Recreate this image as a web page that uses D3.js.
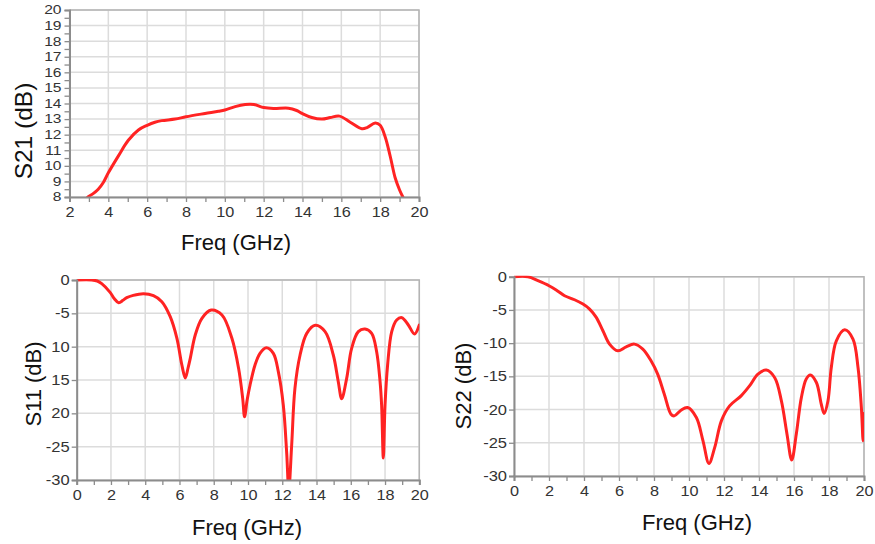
<!DOCTYPE html>
<html>
<head>
<meta charset="utf-8">
<script src="https://cdn.jsdelivr.net/npm/d3@7"></script>
<style>
  body { margin: 0; background: #fff; }
  svg { display: block; }
  text { font-family: "Liberation Sans", Arial, sans-serif; }
</style>
</head>
<body>
<svg id="chart" width="875" height="544"></svg>
<script>
// ---- Gain S21 (dB) versus frequency (GHz)
const s21Freq = [2.94, 3.2, 3.48, 3.75, 4.0, 4.52, 5.03, 5.55, 6.0, 6.4, 6.75, 7.44, 8.0, 8.98, 9.67, 10.0,
  10.53, 11.05, 11.5, 12.0, 12.5, 13.28, 13.7, 14.0, 14.48, 15.0, 15.43, 15.9, 16.46, 17.06, 17.32,
  17.75, 18.0, 18.26, 18.52, 18.78, 19.0, 19.17];
const s21Db = [8.0, 8.2, 8.5, 8.95, 9.55, 10.64, 11.64, 12.3, 12.6, 12.8, 12.9, 13.0, 13.15, 13.36, 13.5, 13.58,
  13.8, 13.93, 13.93, 13.74, 13.68, 13.7, 13.55, 13.35, 13.1, 13.0, 13.1, 13.19, 12.8, 12.38, 12.45,
  12.75, 12.6, 11.85, 10.6, 9.2, 8.45, 8.0];

// ---- Input return loss S11 (dB)
const s11Freq = [0, 0.88, 1.2, 1.46, 1.95, 2.2, 2.45, 2.7, 2.92, 3.3, 3.9, 4.48, 4.97, 5.46, 5.85, 6.14, 6.34,
  6.5, 6.63, 6.92, 7.31, 7.85, 8.48, 9.06, 9.45, 9.69, 9.8, 9.95, 10.12, 10.41, 10.7, 11.07, 11.48, 11.77,
  12.06, 12.26, 12.38, 12.55, 12.74, 13.04, 13.43, 13.93, 14.5, 14.98, 15.27, 15.47, 15.76, 16.05, 16.44,
  16.83, 17.22, 17.51, 17.71, 17.8, 17.9, 18.0, 18.15, 18.39, 18.68, 18.98, 19.36, 19.72, 20];
const s11Db = [0, 0, -0.15, -0.55, -1.85, -2.8, -3.4, -3.05, -2.65, -2.3, -2.05, -2.35, -3.25, -5.5, -8.75, -12.75, -14.7,
  -13.2, -11.75, -8.25, -5.75, -4.5, -5.25, -8.75, -13.25, -17.75, -20.5, -18, -15.75, -12.75, -11, -10.15, -11, -13.75,
  -18.75, -26, -31.5, -24.75, -16.25, -11.25, -8, -6.8, -7.75, -11.25, -15.25, -17.8, -14.75, -10.25, -7.75,
  -7.35, -8, -10.75, -15.25, -18.75, -26.7, -18.75, -12.75, -7.75, -6, -5.65, -6.75, -8.1, -6.75];

// ---- Output return loss S22 (dB)
const s22Freq = [0, 0.8, 1.37, 2.0, 2.41, 2.89, 3.46, 3.94, 4.32, 4.7, 5.08, 5.46, 5.93, 6.41, 6.88, 7.36, 7.83,
  8.21, 8.59, 8.97, 9.16, 9.54, 9.92, 10.42, 10.8, 11.14, 11.47, 11.85, 12.32, 12.99, 13.47, 13.94, 14.42,
  14.9, 15.28, 15.6, 15.87, 16.13, 16.42, 16.7, 16.93, 17.28, 17.56, 17.72, 17.94, 18.13, 18.42, 18.9,
  19.37, 19.66, 19.85, 19.95, 20];
const s22Db = [0, 0, -0.6, -1.36, -2.0, -2.86, -3.47, -4.12, -4.87, -6.13, -8.14, -10.15, -11.16, -10.55, -10.15, -10.9, -12.66,
  -14.67, -17.7, -20.7, -20.95, -20.1, -19.7, -21.2, -24.7, -28.1, -25.7, -21.7, -19.45, -17.9, -16.4, -14.67, -14.05,
  -15.2, -18.7, -23.7, -27.6, -23.7, -18.2, -15.4, -14.8, -15.93, -19.2, -20.6, -18.7, -13.7, -9.65, -8.0,
  -9.4, -13.7, -19.7, -24.7, -20.6];

// ---- Tick values and labels
const s21XTicks = [2, 4, 6, 8, 10, 12, 14, 16, 18, 20];
const s21YTicks = [8, 9, 10, 11, 12, 13, 14, 15, 16, 17, 18, 19, 20];
const s21YLabels = ["8", "9", "10", "11", "12", "13", "14", "15", "16", "17", "18", "19", "20"];
const rlXTicks = [0, 2, 4, 6, 8, 10, 12, 14, 16, 18, 20];
const rlYTicks = [0, -5, -10, -15, -20, -25, -30];
const s11YLabels = ["0", "-5", "10", "15", "20", "-25", "-30"];
const s22YLabels = ["0", "-5", "-10", "-15", "-20", "-25", "-30"];

const svg = d3.select("#chart");
const RED = "#ff2323";

// widen tick labels horizontally (wide-set instrument plot lettering)
function stretchText(sel, factor) {
  sel.each(function () {
    const w = this.getComputedTextLength();
    if (w > 0) {
      d3.select(this).attr("textLength", w * factor).attr("lengthAdjust", "spacingAndGlyphs");
    }
  });
}

function drawPanel(p) {
  const x = d3.scaleLinear().domain(p.xDomain).range([p.x0, p.x1]);
  const y = d3.scaleLinear().domain(p.yDomain).range([p.y1, p.y0]);
  const g = svg.append("g");

  // grid
  g.append("g").selectAll("line").data(p.xTicks).join("line")
    .attr("x1", d => x(d)).attr("x2", d => x(d))
    .attr("y1", p.y0).attr("y2", p.y1)
    .attr("stroke", "#dcdcdc").attr("stroke-width", 1.5);
  g.append("g").selectAll("line").data(p.yTicks).join("line")
    .attr("y1", d => y(d)).attr("y2", d => y(d))
    .attr("x1", p.x0).attr("x2", p.x1)
    .attr("stroke", "#dcdcdc").attr("stroke-width", 1.5);

  // frame (top / right)
  g.append("path")
    .attr("d", `M${p.x0},${p.y0}H${p.x1}V${p.y1}`)
    .attr("fill", "none").attr("stroke", "#b4b4b4").attr("stroke-width", 1.5);

  // trace
  const clipId = "clip-" + p.id;
  g.append("clipPath").attr("id", clipId).append("rect")
    .attr("x", p.x0).attr("y", p.y0 - 1).attr("width", p.x1 - p.x0).attr("height", p.y1 - p.y0 + 2);
  const pts = p.freq.map((f, i) => [f, p.vals[i]]);
  g.append("path")
    .datum(pts)
    .attr("clip-path", `url(#${clipId})`)
    .attr("fill", "none").attr("stroke", RED).attr("stroke-width", 3)
    .attr("stroke-linejoin", "round").attr("stroke-linecap", "round")
    .attr("d", d3.line().x(d => x(d[0])).y(d => y(d[1])).curve(d3.curveCatmullRom.alpha(0.5)));

  // bottom axis
  const xAxis = d3.axisBottom(x)
    .tickValues(d3.range(p.xDomain[0], p.xDomain[1] + 0.5, 1))
    .tickSize(5).tickPadding(5)
    .tickFormat(d => p.xTicks.includes(d) ? String(d) : "");
  const gx = g.append("g").attr("transform", `translate(0,${p.y1})`).call(xAxis);
  gx.select(".domain").attr("stroke", "#8c8c8c").attr("stroke-width", 2);
  gx.selectAll(".tick line").attr("stroke", "#8c8c8c").attr("stroke-width", 1.3);
  gx.selectAll(".tick text").attr("font-size", p.xTickFont).attr("fill", "#333")
    .attr("font-family", "Liberation Sans, Arial, sans-serif")
    .call(stretchText, p.xStretch);

  // left axis
  const yAxis = d3.axisLeft(y)
    .tickValues(p.yMinor)
    .tickSize(5).tickPadding(p.yPad)
    .tickFormat(d => {
      const i = p.yTicks.indexOf(d);
      return i >= 0 ? p.yLabels[i] : "";
    });
  const gy = g.append("g").attr("transform", `translate(${p.x0},0)`).call(yAxis);
  gy.select(".domain").attr("stroke", "#8c8c8c").attr("stroke-width", 2);
  gy.selectAll(".tick line").attr("stroke", "#8c8c8c").attr("stroke-width", 1.3);
  gy.selectAll(".tick text").attr("font-size", p.yTickFont).attr("fill", "#333")
    .attr("font-family", "Liberation Sans, Arial, sans-serif")
    .call(stretchText, p.yStretch);

  // axis titles
  g.append("text")
    .attr("x", p.xTitle[0]).attr("y", p.xTitle[1])
    .attr("text-anchor", "middle").attr("font-size", p.titleFont).attr("fill", "#111")
    .text("Freq (GHz)");
  g.append("text")
    .attr("transform", `translate(${p.yTitle[0]},${p.yTitle[1]}) rotate(-90)`)
    .attr("text-anchor", "middle").attr("dy", "0.36em")
    .attr("font-size", p.yTitleFont).attr("fill", "#111")
    .text(p.yTitleText);
}

drawPanel({
  id: "s21", freq: s21Freq, vals: s21Db,
  xDomain: [2, 20], yDomain: [8, 20],
  x0: 69.5, x1: 419, y0: 10, y1: 197,
  xTicks: s21XTicks, yTicks: s21YTicks, yLabels: s21YLabels,
  yMinor: d3.range(8, 20.25, 0.5),
  xTickFont: 14.5, yTickFont: 12, yPad: 3, xStretch: 1.12, yStretch: 1.3,
  xTitle: [236, 250], titleFont: 22,
  yTitle: [23, 131], yTitleFont: 24.5, yTitleText: "S21 (dB)"
});

drawPanel({
  id: "s11", freq: s11Freq, vals: s11Db,
  xDomain: [0, 20], yDomain: [-30, 0],
  x0: 76.7, x1: 419.3, y0: 280, y1: 480,
  xTicks: rlXTicks, yTicks: rlYTicks, yLabels: s11YLabels,
  yMinor: rlYTicks,
  xTickFont: 14.5, yTickFont: 14, yPad: 2, xStretch: 1.12, yStretch: 1.18,
  xTitle: [247, 535], titleFont: 22,
  yTitle: [33, 384], yTitleFont: 22, yTitleText: "S11 (dB)"
});

drawPanel({
  id: "s22", freq: s22Freq, vals: s22Db,
  xDomain: [0, 20], yDomain: [-30, 0],
  x0: 514, x1: 864, y0: 276.7, y1: 476,
  xTicks: rlXTicks, yTicks: rlYTicks, yLabels: s22YLabels,
  yMinor: rlYTicks,
  xTickFont: 14.5, yTickFont: 14, yPad: 2, xStretch: 1.12, yStretch: 1.18,
  xTitle: [697, 530], titleFont: 22,
  yTitle: [463, 386], yTitleFont: 22, yTitleText: "S22 (dB)"
});
</script>
</body>
</html>
